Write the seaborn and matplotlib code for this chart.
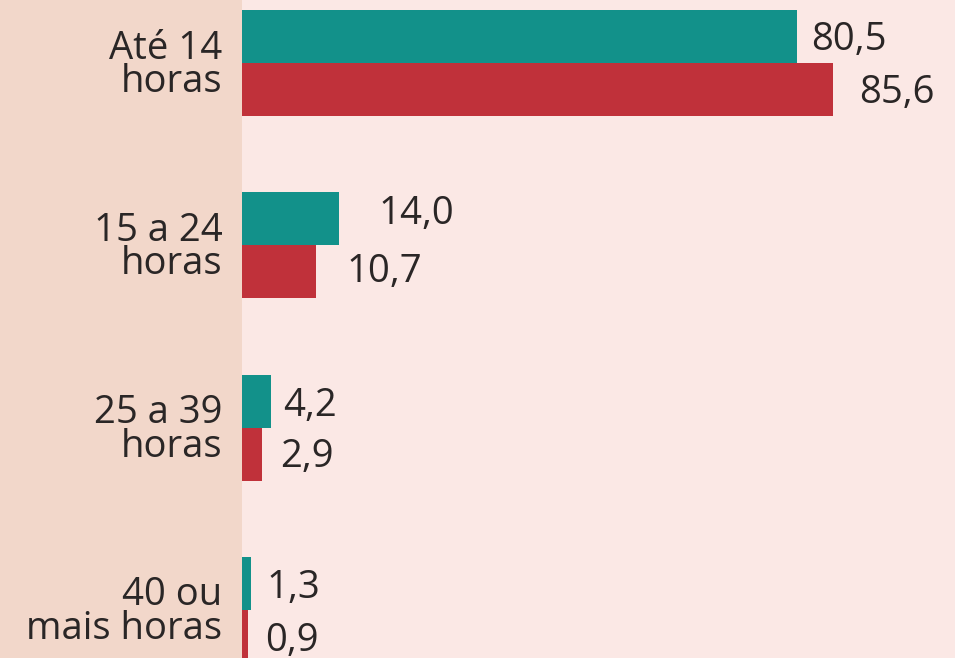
import matplotlib
matplotlib.use("Agg")
import matplotlib.pyplot as plt
import seaborn as sns
import pandas as pd

categories = ["Até 14\nhoras", "15 a 24\nhoras", "25 a 39\nhoras", "40 ou\nmais horas"]
series_names = ["Série A", "Série B"]
values_a = [80.5, 14.0, 4.2, 1.3]
values_b = [85.6, 10.7, 2.9, 0.9]
labels_a = ["80,5", "14,0", "4,2", "1,3"]
labels_b = ["85,6", "10,7", "2,9", "0,9"]

df = pd.DataFrame({
    "cat": categories * 2,
    "serie": [series_names[0]] * 4 + [series_names[1]] * 4,
    "val": values_a + values_b,
})

sns.set_style("white")
plt.rcParams["font.family"] = ["Open Sans", "DejaVu Sans"]

fig = plt.figure(figsize=(9.55, 6.58), dpi=100)
fig.patch.set_facecolor("#f2d7ca")
ax = fig.add_axes([242 / 955, 0, 1 - 242 / 955, 1])
ax.set_facecolor("#fbe8e5")

sns.barplot(data=df, x="val", y="cat", hue="serie", orient="h",
            palette=["#12918a", "#c0313a"], width=0.58, saturation=1,
            legend=False, ax=ax, order=categories, hue_order=series_names,
            linewidth=0)

px_per_unit = 6.9
ax.set_xlim(0, (955 - 242) / px_per_unit)
ax.set_ylim(3 + 48 / 182.3, -63 / 182.3)

txt_color = "#2a2626"
fs = 27.5
fw = "medium"
# per-label offsets in points (x, y) to mimic placement
offs_a = [(10, 1), (29, 7), (9, 0), (11, 0)]
offs_b = [(19, 1), (22, 3), (13, 1), (12, 0)]
for cont, labs, offs in zip(ax.containers, [labels_a, labels_b], [offs_a, offs_b]):
    for bar, lab, (dx, dy) in zip(cont, labs, offs):
        y = bar.get_y() + bar.get_height() / 2
        ax.annotate(lab, (bar.get_width(), y), xytext=(dx, dy), textcoords="offset points",
                    ha="left", va="center_baseline", fontsize=fs, color=txt_color,
                    fontweight=fw)

ax.set_xlabel("")
ax.set_ylabel("")
ax.set_xticks([])
ax.tick_params(axis="y", length=0, pad=14)
for t in ax.get_yticklabels():
    t.set_fontsize(fs)
    t.set_fontweight(fw)
    t.set_color(txt_color)
    t.set_linespacing(0.85)
    t.set_ha("right")
for s in ax.spines.values():
    s.set_visible(False)

fig.savefig("out.png", dpi=100, facecolor=fig.get_facecolor())
